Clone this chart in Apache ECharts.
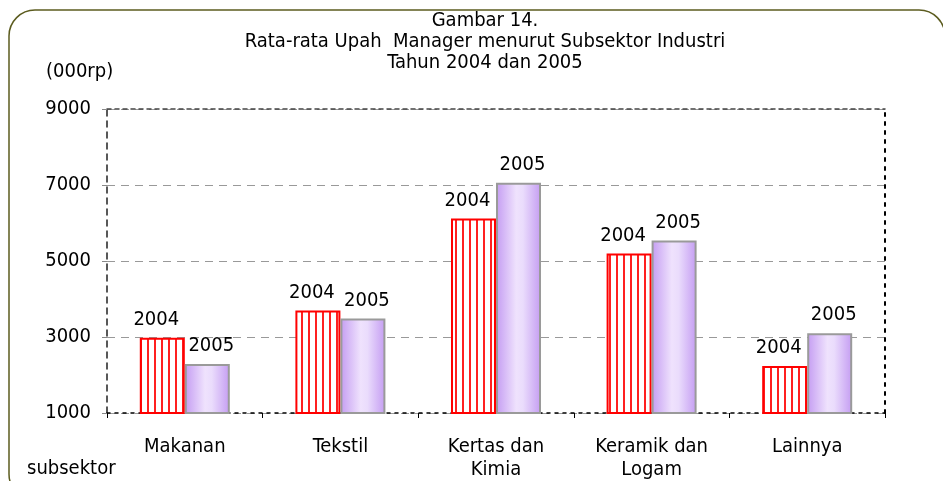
<!DOCTYPE html>
<html>
<head>
<meta charset="utf-8">
<script src="https://cdn.jsdelivr.net/npm/echarts@6/dist/echarts.min.js"></script>
<style>
  html, body { margin: 0; padding: 0; background: #fff; }
  #main { width: 943px; height: 481px; }
</style>
</head>
<body>
<div id="main"></div>
<script>
var categories = ["Makanan", "Tekstil", "Kertas dan\nKimia", "Keramik dan\nLogam", "Lainnya"];
var upah2004 = [2980, 3700, 6120, 5200, 2240];
var upah2005 = [2290, 3490, 7060, 5540, 3100];
var yTicks = [1000, 3000, 5000, 7000, 9000];

var FONT = "'DejaVu Sans Condensed', 'DejaVu Sans', sans-serif";
var FS = 20;

// vertical red stripes for 2004
var stripe = document.createElement("canvas");
stripe.width = 7;
stripe.height = 7;
var ctx = stripe.getContext("2d");
ctx.fillStyle = "#fff";
ctx.fillRect(0, 0, 7, 7);
ctx.fillStyle = "#ff2020";
ctx.fillRect(0, 0, 2, 7);

var myChart = echarts.init(document.getElementById("main"), null, {
    width: 943,
    height: 481,
});
var option;

option = {
    backgroundColor: "#fff",
    textStyle: { fontFamily: FONT },
    title: {
        text: "Gambar 14.\nRata-rata Upah  Manager menurut Subsektor Industri\nTahun 2004 dan 2005",
        left: 480,
        textAlign: "center",
        top: 5,
        textStyle: {
            fontFamily: FONT,
            fontSize: FS,
            fontWeight: "normal",
            color: "#000",
            lineHeight: 21,
        },
    },
    graphic: [
        {
            type: "rect",
            shape: { x: 9, y: 10, width: 936, height: 490, r: 26 },
            style: { fill: "none", stroke: "#5c5c1f", lineWidth: 1.5 },
            silent: true,
        },
        {
            type: "text",
            left: 46,
            top: 62,
            style: { text: "(000rp)", font: FS + "px " + FONT, fill: "#000" },
        },
        {
            type: "text",
            left: 27,
            top: 459,
            style: { text: "subsektor", font: FS + "px " + FONT, fill: "#000" },
        },
    ],
    grid: {
        left: 107,
        right: 58,
        top: 109,
        bottom: 67,
    },
    xAxis: [
        {
            type: "category",
            data: categories,
            axisLine: { lineStyle: { color: "#000", width: 1.5, type: [3, 5] } },
            axisTick: { show: true, length: 5, lineStyle: { color: "#000" } },
            axisLabel: {
                color: "#000",
                fontSize: FS,
                fontFamily: FONT,
                margin: 22,
                lineHeight: 23,
            },
        },
        {
            type: "category",
            data: categories,
            position: "top",
            axisLine: { lineStyle: { color: "#444", width: 1.5, type: [4, 4] } },
            axisTick: { show: false },
            axisLabel: { show: false },
        },
    ],
    yAxis: [
        {
            type: "value",
            min: 1000,
            max: 9000,
            interval: 2000,
            axisLine: { show: true, lineStyle: { color: "#222", width: 1.5, type: [6, 5] } },
            axisTick: { show: true, length: 5, lineStyle: { color: "#888" } },
            axisLabel: {
                color: "#000",
                fontSize: FS,
                fontFamily: FONT,
                margin: 16,
                formatter: function (v) { return yTicks.indexOf(v) >= 0 ? String(v) : ""; },
            },
            splitLine: { show: true, lineStyle: { color: "#999", type: [8, 6], width: 1 } },
        },
        {
            type: "value",
            min: 1000,
            max: 9000,
            interval: 2000,
            position: "right",
            axisLine: { show: true, lineStyle: { color: "#000", width: 2, type: [3, 6] } },
            axisTick: { show: false },
            axisLabel: { show: false },
            splitLine: { show: false },
        },
    ],
    series: [
        {
            name: "2004",
            type: "bar",
            barWidth: 45,
            barGap: "0%",
            data: upah2004,
            itemStyle: {
                color: { image: stripe, repeat: "repeat" },
                borderColor: "#ff0000",
                borderWidth: 2,
            },
            label: {
                show: true,
                position: "top",
                distance: 8,
                offset: [-6, 0],
                formatter: "2004",
                color: "#000",
                fontSize: FS,
                fontFamily: FONT,
            },
        },
        {
            name: "2005",
            type: "bar",
            barWidth: 45,
            barGap: "0%",
            data: upah2005,
            itemStyle: {
                color: {
                    type: "linear", x: 0, y: 0, x2: 1, y2: 0,
                    colorStops: [
                        { offset: 0, color: "#c49cf2" },
                        { offset: 0.45, color: "#efe2fd" },
                        { offset: 0.6, color: "#eadcfc" },
                        { offset: 1, color: "#c49cf2" },
                    ],
                },
                borderColor: "#9a9a9a",
                borderWidth: 2,
            },
            label: {
                show: true,
                position: "top",
                distance: 8,
                offset: [4, 0],
                formatter: "2005",
                color: "#000",
                fontSize: FS,
                fontFamily: FONT,
            },
        },
    ],
};
option && myChart.setOption(option);
</script>
</body>
</html>
